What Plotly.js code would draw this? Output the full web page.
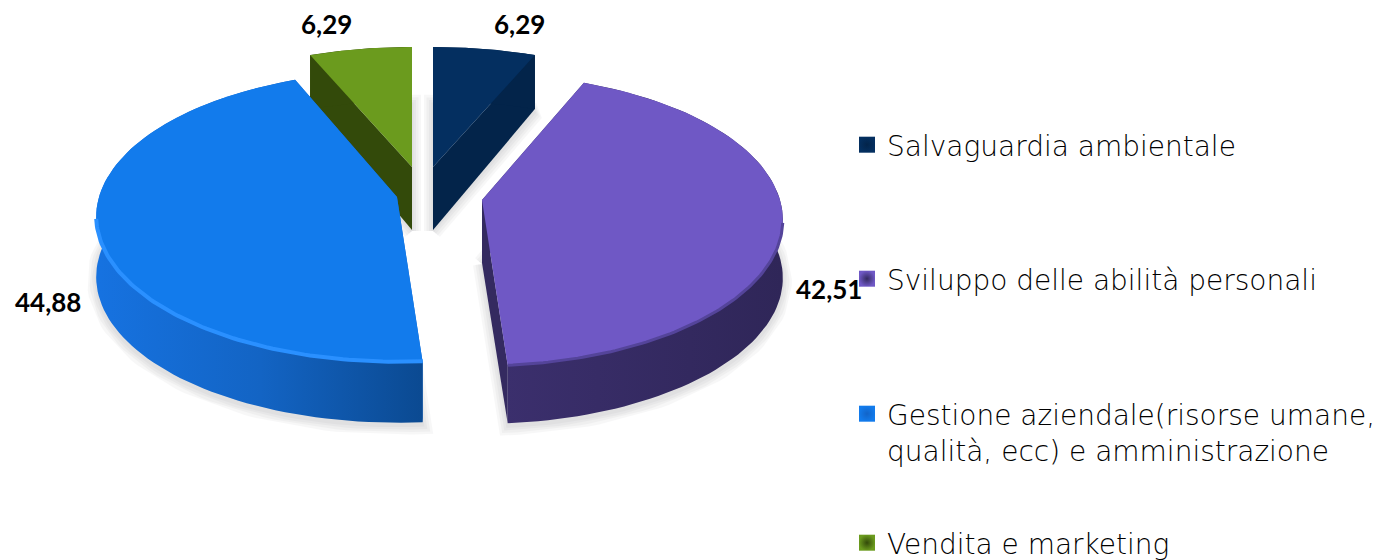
<!DOCTYPE html>
<html>
<head>
<meta charset="utf-8">
<script src="https://cdn.plot.ly/plotly-3.0.1.min.js"></script>
<style>html,body{margin:0;padding:0;background:#fff}#chart{width:1380px;height:560px}</style>
</head>
<body>
<div id="chart"></div>
<script>
// --- data ---
var categories = ['Salvaguardia ambientale','Sviluppo delle abilità personali','Gestione aziendale(risorse umane,<br>qualità, ecc) e amministrazione','Vendita e marketing'];
var values = [6.29, 42.51, 44.88, 6.29];

// --- styles ---
var topColors = ['#042f60','#6f58c5','#127bec','#6b9b1e'];
var wallColors = ['#03244a','#342a60','#1264c8','#334a0a'];
var centers = [[433,167],[482,200],[397,197],[412,167]];
var depth = [0.955,1,1,0.955];
var labelPos = [[519,24],[829,289],[48,302],[326,24]];
var legendY = [144,278,413,542];
var tipDepth = [63,63,60,63];
var rimDepth = [54,58,60,54];
var A = 298, B = 143, K = 0.137;
var drawOrder = [3,0,1,2];

var total = values.reduce(function(a,b){return a+b;},0);
var startA = [], endA = [], acc = 0;
values.forEach(function(v,i){ startA[i]=acc/total*2*Math.PI; acc+=v; endA[i]=acc/total*2*Math.PI; });

function rimPoint(i,t,dy){
  var u=Math.sin(t), v=Math.cos(t), w=1+K*v;
  return [centers[i][0]+A*u/w, centers[i][1]-B*depth[i]*v/w+(dy||0)];
}
function arc(i,a0,a1,dy){
  var pts=[], n=90;
  for(var j=0;j<=n;j++){ pts.push(rimPoint(i,a0+(a1-a0)*j/n,dy)); }
  return pts;
}
function poly(pts,extra){
  var t={type:'scatter',mode:'lines',x:pts.map(function(p){return p[0];}),y:pts.map(function(p){return p[1];}),
    fill:'toself',line:{width:0},hoverinfo:'skip',showlegend:false};
  for(var k in extra){t[k]=extra[k];}
  return t;
}
function wedge(i,dyTip,dyRim){
  return [[centers[i][0],centers[i][1]+dyTip]].concat(arc(i,startA[i],endA[i],dyRim)).concat([[centers[i][0],centers[i][1]+dyTip]]);
}

var traces=[];
// soft shadows
[18,13,8,3].forEach(function(w){
  drawOrder.forEach(function(i){
    traces.push(poly(wedge(i,tipDepth[i]+1,rimDepth[i]+3),{fillcolor:'#555560',line:{color:'#555560',width:w},opacity:0.045}));
  });
});
// slices, back to front
drawOrder.forEach(function(i){
  var c=centers[i];
  var wall={fillcolor:wallColors[i]};
  var outer=arc(i,startA[i],endA[i],0).concat(arc(i,endA[i],startA[i],rimDepth[i]));
  var outerStyle={fillcolor:wallColors[i]};
  if(i===2){ outerStyle.fillgradient={type:'horizontal',start:100,stop:421,colorscale:[[0,'#1672e0'],[0.5,'#1364c4'],[1,'#0b4a92']]}; }
  if(i===1){ outerStyle.fillgradient={type:'horizontal',start:505,stop:782,colorscale:[[0,'#3b2f6d'],[1,'#2f2658']]}; }
  [startA[i],endA[i]].forEach(function(t){
    var r=rimPoint(i,t,0);
    traces.push(poly([[c[0],c[1]],r,[r[0],r[1]+rimDepth[i]],[c[0],c[1]+tipDepth[i]],[c[0],c[1]]],wall));
  });
  traces.push(poly(outer,outerStyle));
  traces.push(poly(wedge(i,0,0),{fillcolor:topColors[i]}));
});
// rim highlights
var rim2=arc(2,startA[2],Math.PI*1.45,0);
traces.push({type:'scatter',mode:'lines',x:rim2.map(function(p){return p[0];}),y:rim2.map(function(p){return p[1]-1;}),
  line:{color:'#2a90ff',width:4},hoverinfo:'skip',showlegend:false});
var rim1=arc(1,Math.PI*0.55,endA[1],0);
traces.push({type:'scatter',mode:'lines',x:rim1.map(function(p){return p[0];}),y:rim1.map(function(p){return p[1];}),
  line:{color:'#54449a',width:3},hoverinfo:'skip',showlegend:false});

// legend entries, one independent legend for each row
var layoutLegends={};
categories.forEach(function(name,i){
  var key=i===0?'legend':'legend'+(i+1);
  traces.push({type:'scatter',mode:'markers',x:[null],y:[null],name:name,legend:key,hoverinfo:'skip',
    marker:{symbol:'square',size:18,color:topColors[i],gradient:{type:'radial',color:wallColors[i]},line:{width:0}}});
  layoutLegends[key]={x:851/1380,xanchor:'left',y:1-(legendY[i]-24)/560,yanchor:'top',indentation:-4,valign:'top',
    bgcolor:'rgba(0,0,0,0)',borderwidth:0,itemclick:false,itemdoubleclick:false,
    font:{family:'"DejaVu Sans Light","DejaVu Sans", sans-serif',size:28,color:'#000',weight:200}};
});

var annotations=values.map(function(v,i){
  return {x:labelPos[i][0],y:labelPos[i][1],xref:'x',yref:'y',showarrow:false,
    text:'<b>'+v.toFixed(2).replace('.',',')+'</b>',
    font:{family:'Lato, sans-serif',size:26,color:'#000'}};
});

var layout=Object.assign({
  width:1380,height:560,margin:{l:0,r:0,t:0,b:0,autoexpand:false},
  paper_bgcolor:'#fff',plot_bgcolor:'#fff',showlegend:true,
  xaxis:{range:[0,1380],visible:false,fixedrange:true},
  yaxis:{range:[560,0],visible:false,fixedrange:true},
  annotations:annotations,hovermode:false
},layoutLegends);

Plotly.newPlot('chart',traces,layout,{displayModeBar:false});
</script>
</body>
</html>
